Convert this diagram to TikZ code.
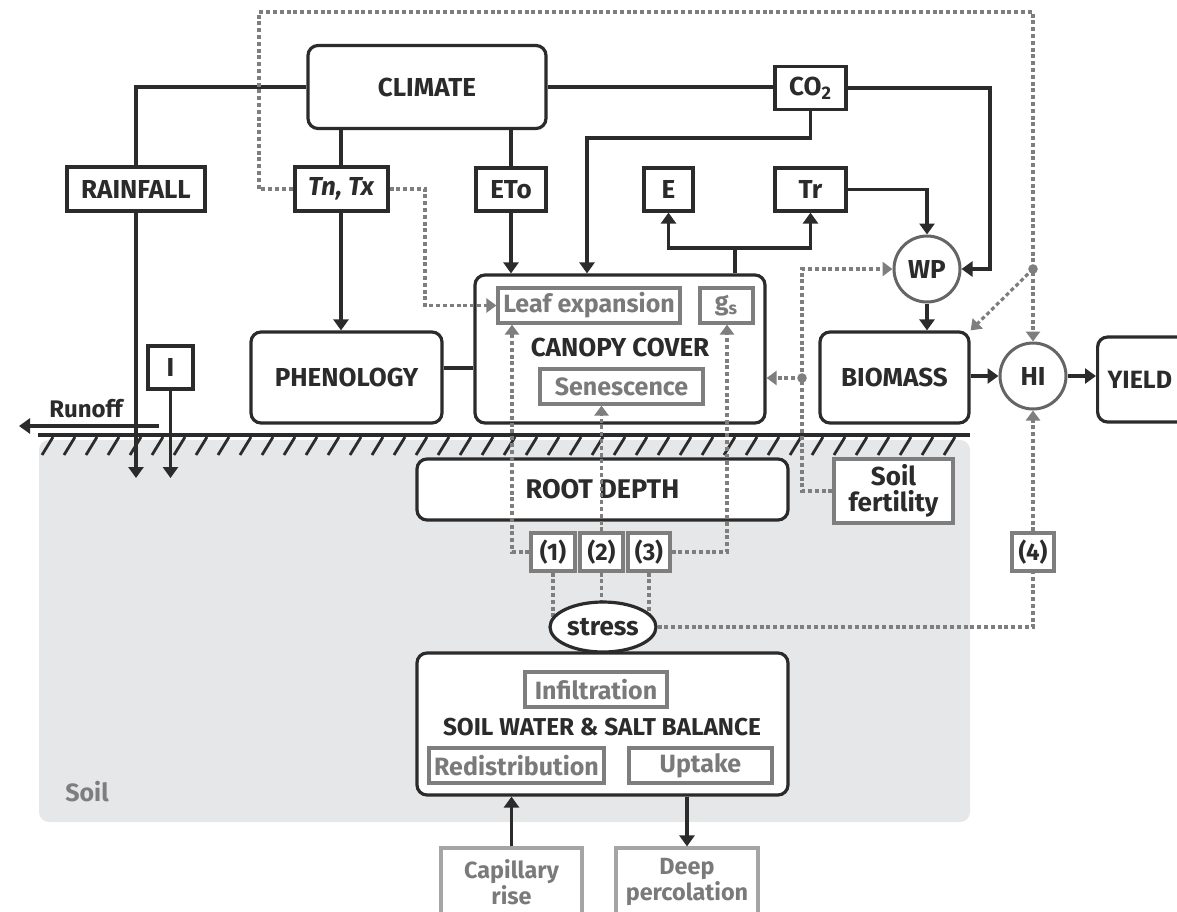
\documentclass[tikz,border=0pt]{standalone}
\usepackage{fontspec}
\setmainfont{Fira Sans}
\usetikzlibrary{arrows.meta,calc,shapes.geometric}
\pgfdeclarelayer{back}
\pgfdeclarelayer{bg}
\pgfsetlayers{back,bg,main}
\definecolor{dk}{HTML}{2B2B2B}
\definecolor{gr}{HTML}{7E7E7E}
\definecolor{grl}{HTML}{A5A5A5}
\definecolor{soil}{HTML}{E6E7E9}
\definecolor{gtxt}{HTML}{7A7A7A}
\tikzset{
 base/.style={inner sep=0pt, align=center, font=\bfseries\fontsize{13}{14}\selectfont, text=dk},
 rbox/.style={base, draw=dk, line width=1.6pt, rounded corners=5pt, fill=white},
 sbox/.style={base, draw=dk, line width=1.6pt, fill=white},
 gbox/.style={base, draw=gr, line width=1.6pt, fill=white, text=gtxt, font=\bfseries\fontsize{12.5}{13}\selectfont},
 nbox/.style={base, draw=gr, line width=1.6pt, fill=white, font=\bfseries\fontsize{12}{13}\selectfont},
 circ/.style={base, circle, draw=gr!80!black, line width=1.5pt, fill=white, minimum size=33pt},
 ln/.style={draw=dk, line width=1.6pt},
 arr/.style={ln, -{Triangle[length=5.5pt,width=7.5pt]}},
 dl/.style={draw=gr, line width=1.6pt, dash pattern=on 2pt off 1.4pt},
 darr/.style={dl, -{Triangle[length=5pt,width=7pt]}},
 jdot/.style={fill=gr},
}
\begin{document}
\begin{tikzpicture}[x=0.5pt,y=-0.5pt]
\useasboundingbox (0,0) rectangle (1177,911);
\clip (0,0) rectangle (1177,911);
% soil
\begin{pgfonlayer}{back}
\fill[soil, rounded corners=5pt] (39,440) rectangle (970,822);
\foreach \x in {42,64,...,960} \draw[dk, line width=1.4pt] (\x,455) -- ++(11,-18);
\draw[ln] (38,435) -- (970,435);
\end{pgfonlayer}
\node[base, text=gr, font=\bfseries\fontsize{12.5}{13}\selectfont] (soillbl) at (87,792) {Soil};
\node[base, font=\bfseries\fontsize{12}{13}\selectfont] (runlbl) at (86,409) {Runoff};

% nodes
\node[rbox, minimum width=119pt, minimum height=41.5pt] (climate) at (427,87) {CLIMATE};
\node[sbox, minimum width=69pt, minimum height=22pt] (rain) at (136,189) {RAINFALL};
\node[sbox, line width=2pt, minimum width=46.5pt, minimum height=22pt] (tntx) at (341,189) {\itshape Tn, Tx};
\node[sbox, minimum width=35pt, minimum height=21.5pt] (eto) at (511,189.5) {ETo};
\node[sbox, minimum width=35.5pt, minimum height=21.5pt] (co2) at (810.5,88) {CO\textsubscript{2}};
\node[sbox, minimum width=24.5pt, minimum height=21.5pt] (e) at (668.5,189.5) {E};
\node[sbox, minimum width=35.5pt, minimum height=21.5pt] (tr) at (810.5,189.5) {Tr};
\node[rbox, minimum width=145pt, minimum height=74pt] (canopy) at (620,349) {};
\node[gbox, minimum width=91pt, minimum height=17.5pt] (leaf) at (589,305.5) {Leaf expansion};
\node[gbox, minimum width=26.5pt, minimum height=17.5pt] (gs) at (726.5,305.5) {g\textsubscript{s}};
\node[base] (cc) at (620,347) {CANOPY COVER};
\node[gbox, minimum width=81.5pt, minimum height=17.5pt] (sen) at (621.5,386.5) {Senescence};
\node[rbox, minimum width=95.5pt, minimum height=45.5pt] (phen) at (346.5,377.5) {PHENOLOGY};
\node[sbox, minimum width=22.5pt, minimum height=21.5pt] (irr) at (170.5,367.5) {I};
\node[circ] (wp) at (927,269) {WP};
\node[rbox, minimum width=74.5pt, minimum height=45.5pt] (bio) at (894.5,377.5) {BIOMASS};
\node[circ] (hi) at (1033,376) {HI};
\node[rbox, minimum height=42.5pt, inner xsep=5pt, text width=80pt, align=left, anchor=west, font=\bfseries\fontsize{12.5}{13}\selectfont] (yield) at (1096,379.5) {YIELD};
\node[nbox, minimum width=59.5pt, minimum height=32pt, font=\bfseries\fontsize{13}{13}\selectfont] (fert) at (893.5,491) {Soil\\fertility};
\node[rbox, minimum width=185.5pt, minimum height=30.5pt, font=\bfseries\fontsize{13.5}{14}\selectfont] (root) at (602.5,489.5) {ROOT DEPTH};
\node[nbox, minimum width=22pt, minimum height=19pt] (n1) at (553,552) {(1)};
\node[nbox, minimum width=21.5pt, minimum height=19pt] (n2) at (601.5,552) {(2)};
\node[nbox, minimum width=21pt, minimum height=19pt] (n3) at (649,552) {(3)};
\node[nbox, minimum width=21pt, minimum height=19pt] (n4) at (1033,552) {(4)};
\node[base, ellipse, draw=dk, line width=1.6pt, fill=white, minimum width=53pt, minimum height=25pt] (stress) at (603,627) {stress};
\node[rbox, minimum width=185.5pt, minimum height=71pt] (swb) at (602.5,724) {};
\node[gbox, minimum width=71pt, minimum height=17.5pt] (inf) at (596,689.5) {Infiltration};
\node[base, font=\bfseries\fontsize{12.2}{13}\selectfont] (swbt) at (602,727) {SOIL WATER \& SALT BALANCE};
\node[gbox, minimum width=87.5pt, minimum height=17.5pt] (red) at (516.5,765.5) {Redistribution};
\node[gbox, minimum width=71.5pt, minimum height=17.5pt] (upt) at (700.5,765.5) {Uptake};
\node[gbox, draw=grl, minimum width=70.5pt, minimum height=34pt, font=\bfseries\fontsize{11.7}{12.8}\selectfont] (cap) at (511.5,882) {Capillary\\rise};
\node[gbox, draw=grl, minimum width=71pt, minimum height=34pt, font=\bfseries\fontsize{11.7}{12.8}\selectfont] (deep) at (687,882) {Deep\\percolation};

% coordinates
\coordinate (rainend) at (136,478);
\coordinate (iend) at (170.5,478);
\coordinate (ro1) at (159,426);
\coordinate (ro2) at (19,426);
\coordinate (cr) at (990,269);
\coordinate (cd) at (587,138);
\coordinate (ct) at (735,248);
\coordinate (pc) at (0,368);
\coordinate (t1) at (259,12);
\coordinate (t2) at (1033,12);
\coordinate (jd1) at (1033,269);
\coordinate (b1) at (425,189);
\coordinate (c1) at (512,552);
\coordinate (c3) at (727,552);
\coordinate (c4) at (1033,627);
\coordinate (c5) at (802,488);
\coordinate (c6) at (802,269);
\coordinate (jd2) at (802,378);

% black connectors
\draw[ln] (climate.west) -| (rain.north);
\draw[arr] (rain.south) -- (rainend);
\draw[arr] (irr.south) -- (iend);
\draw[arr] (ro1) -- (ro2);
\draw[ln] (tntx.north |- climate.south) -- (tntx.north);
\draw[arr] (tntx.south) -- (tntx.south |- phen.north);
\draw[ln] (eto.north |- climate.south) -- (eto.north);
\draw[arr] (eto.south) -- (eto.south |- canopy.north);
\draw[ln] (climate.east) -- (climate.east -| co2.west);
\draw[arr] (co2.east) -| (cr) -- (wp.east);
\draw[arr] (co2.south) |- (cd) -- (cd |- canopy.north);
\draw[ln] (ct |- canopy.north) -- (ct);
\draw[arr] (ct) -| (e.south);
\draw[arr] (ct) -| (tr.south);
\draw[arr] (tr.east) -| (wp.north);
\draw[arr] (wp.south) -- (wp.south |- bio.north);
\draw[arr] (hi.west -| bio.east) -- (hi.west);
\draw[arr] (hi.east) -- (hi.east -| yield.west);
\draw[ln] (phen.east |- pc) -- (canopy.west |- pc);
\draw[arr] (cap.north) -- (cap.north |- swb.south);
\draw[arr] (deep.north |- swb.south) -- (deep.north);

% grey dotted connectors
\draw[darr] (tntx.west) -| (t1) -- (t2) -- (hi.north);
\draw[darr] (jd1) -- (bio.north east);
\fill[jdot] (jd1) circle[radius=2.4pt];
\draw[darr] (tntx.east) -- (b1) -- (b1 |- leaf.west) -- (leaf.west);
\draw[darr] (n1.west) -- (c1) -- (c1 |- leaf.south);
\draw[darr] (n2.north) -- (n2.north |- sen.south);
\draw[darr] (n3.east) -- (c3) -- (c3 |- gs.south);
\begin{pgfonlayer}{bg}
\draw[dl] (n1.south) -- (n1.south |- stress.center);
\draw[dl] (n2.south) -- (n2.south |- stress.center);
\draw[dl] (n3.south) -- (n3.south |- stress.center);
\end{pgfonlayer}
\draw[dl] (stress.east) -- (c4) -- (n4.south);
\draw[darr] (n4.north) -- (hi.south);
\draw[darr] (fert.west) -- (fert.west -| c5) -- (c6) -- (wp.west);
\draw[darr] (jd2) -- (jd2 -| canopy.east);
\fill[jdot] (jd2) circle[radius=2.4pt];
\end{tikzpicture}
\end{document}
